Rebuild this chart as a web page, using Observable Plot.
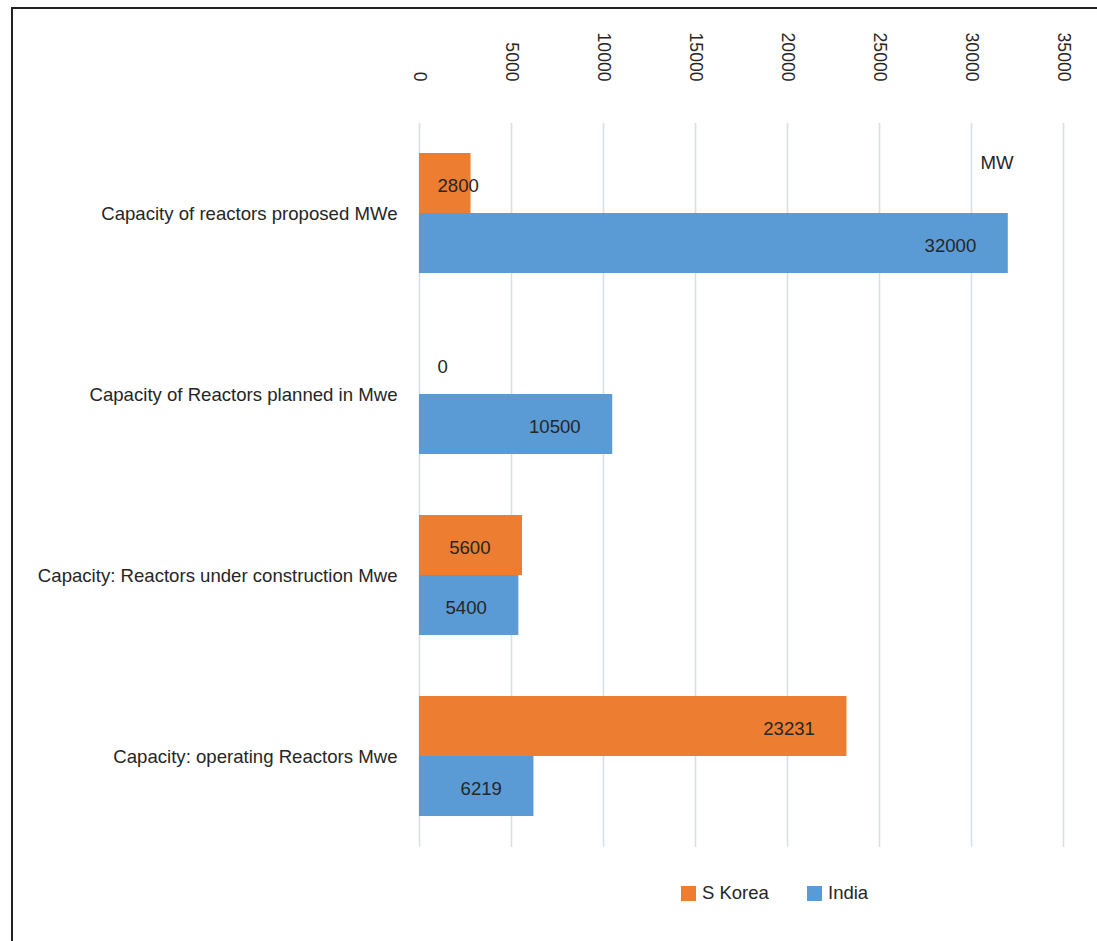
<!DOCTYPE html>
<html>
<head>
<meta charset="utf-8">
<script src="https://cdn.jsdelivr.net/npm/d3@7"></script>
<script src="https://cdn.jsdelivr.net/npm/@observablehq/plot@0.6"></script>
<style>
  html, body { margin: 0; padding: 0; background: #fff; }
  body { width: 1097px; height: 941px; overflow: hidden; position: relative; font-family: "Liberation Sans", Arial, sans-serif; }
  #frame { position: absolute; left: 11px; top: 7px; right: -5px; bottom: -5px; border-left: 2px solid #222; border-top: 2px solid #222; }
  #chart { position: absolute; left: 0; top: 0; }
  #legend { position: absolute; left: 0; width: 1097px; top: 881px; height: 24px; font-size: 18.5px; color: #262626; }
  .item { display: flex; align-items: center; position: absolute; top: 0; height: 24px; }
  .sw { width: 15px; height: 15px; margin-right: 6px; display: inline-block; }
</style>
</head>
<body>
<div id="frame"></div>
<div id="chart"></div>
<div id="legend"></div>
<script>
const categories = [
  "Capacity of reactors proposed MWe",
  "Capacity of Reactors planned in Mwe",
  "Capacity: Reactors under construction Mwe",
  "Capacity: operating Reactors Mwe"
];
const seriesNames = ["S Korea", "India"];
const sKorea = [2800, 0, 5600, 23231];
const india = [32000, 10500, 5400, 6219];
const xTicks = [0, 5000, 10000, 15000, 20000, 25000, 30000, 35000];
const unitLabel = "MW";
const colors = ["#ED7D31", "#5B9BD5"];

const rowsK = categories.map((c, i) => ({category: c, series: "S Korea", value: sKorea[i]}));
const rowsI = categories.map((c, i) => ({category: c, series: "India", value: india[i]}));

const W = 1097, H = 870;
const mL = 419, mR = 34, mT = 123, mB = 23;
const pxPerUnit = (W - mL - mR) / 35000;
const smallThresh = 90 / pxPerUnit; // bars too short for an inside-end label

const textFill = "#262626";
const fs = 18.6;

function labelMarks(rows, dy) {
  return [
    Plot.text(rows.filter(d => d.value >= smallThresh), {
      x: "value", y: "category", text: d => String(d.value),
      textAnchor: "end", dx: -32, dy: dy + 2, fill: textFill, fontSize: fs
    }),
    Plot.text(rows.filter(d => d.value < smallThresh), {
      x: () => 0, y: "category", text: d => String(d.value),
      textAnchor: "start", dx: 18, dy: dy + 2, fill: textFill, fontSize: fs
    })
  ];
}

const chart = Plot.plot({
  width: W, height: H,
  marginLeft: mL, marginRight: mR, marginTop: mT, marginBottom: mB,
  style: {fontFamily: "'Liberation Sans', Arial, sans-serif", fontSize: fs + "px", color: textFill, background: "transparent"},
  x: {domain: [0, 35000], axis: null},
  y: {domain: categories, padding: 0, axis: null},
  marks: [
    Plot.ruleX(xTicks, {stroke: "#D9DEE8", strokeWidth: 1.6}),
    Plot.barX(rowsK, {x: "value", y: "category", fill: colors[0], insetTop: 30, insetBottom: 91}),
    Plot.barX(rowsI, {x: "value", y: "category", fill: colors[1], insetTop: 90, insetBottom: 31}),
    ...labelMarks(rowsK, -30),
    ...labelMarks(rowsI, 30),
    Plot.text(categories, {y: d => d, frameAnchor: "left", textAnchor: "end", dx: -22, text: d => d, fill: textFill, fontSize: fs}),
    Plot.text(xTicks, {x: d => d, frameAnchor: "top", dy: -42, rotate: 90, textAnchor: "end", lineAnchor: "middle", text: d => String(d), fill: textFill, fontSize: 17.6}),
    Plot.text([unitLabel], {frameAnchor: "top-right", dx: -50, dy: 40, textAnchor: "end", lineAnchor: "middle", text: d => d, fill: textFill, fontSize: fs})
  ]
});
document.getElementById("chart").appendChild(chart);

const legend = document.getElementById("legend");
const legendX = [681, 807];
seriesNames.forEach((s, i) => {
  const item = document.createElement("div");
  item.className = "item";
  item.style.left = legendX[i] + "px";
  const sw = document.createElement("span");
  sw.className = "sw";
  sw.style.background = colors[i];
  const t = document.createElement("span");
  t.textContent = s;
  item.appendChild(sw); item.appendChild(t);
  legend.appendChild(item);
});
</script>
</body>
</html>
